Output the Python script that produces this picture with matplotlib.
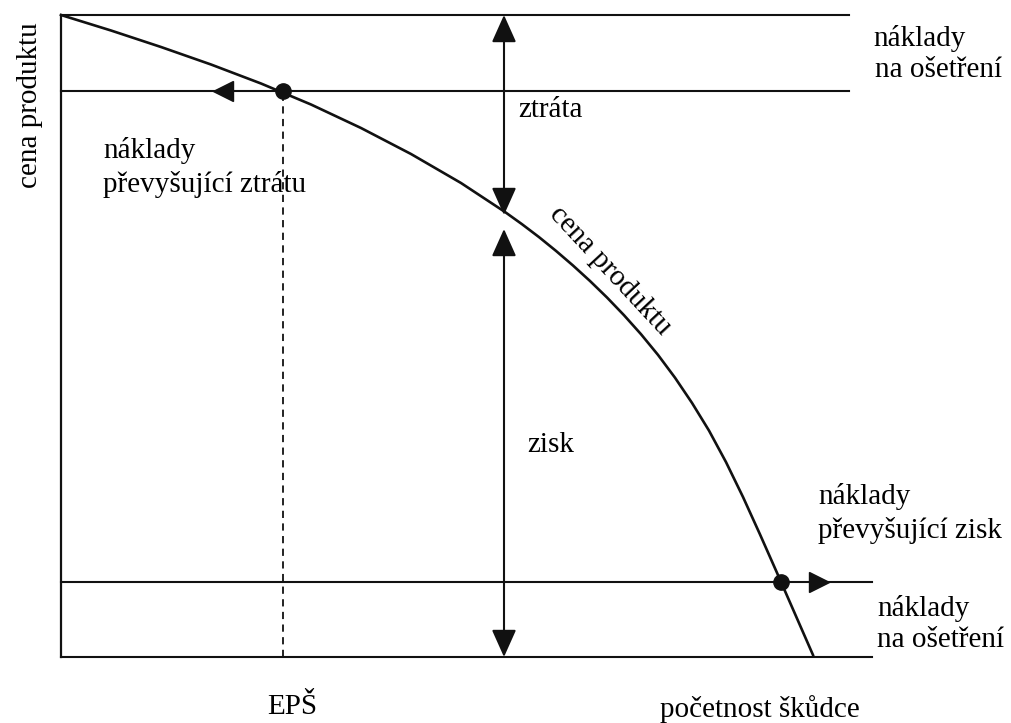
import matplotlib.pyplot as plt

plt.rcParams['font.family'] = ['Liberation Serif', 'DejaVu Serif']

# krivka ceny produktu
curve_x = [0, 50, 100, 150, 200, 250, 300, 350, 400, 444, 461, 478, 495, 512, 529, 546,
           563, 580, 597, 614, 631, 648, 665, 682, 699, 716, 733, 752]
curve_y = [642, 626.5, 610, 592.5, 573.5, 552.5, 529, 503, 474, 445, 432.8, 419.9, 406.1,
           391.5, 376, 359.5, 341.8, 322.8, 302.1, 279.3, 254.1, 226.4, 194.9, 160, 122.6,
           84.2, 45.4, 2]

# urovne nakladu
top_levels = [642, 566]
bottom_levels = [75, 0]
top_end = 788
bottom_end = 811

# body EPS a zisku
eps_x, eps_y = 222, 566
zisk_x, zisk_y = 720, 75

# dvojite sipky ztrata / zisk
loss_x, loss_top, loss_bottom = 443, 642, 442
gain_x, gain_top, gain_bottom = 443, 428, 0

fig = plt.figure(figsize=(10.11, 7.23), dpi=100)
ax = fig.add_axes([0, 0, 1, 1])
ax.set_xlim(-61, 950)
ax.set_ylim(-66, 657)
ax.axis('off')

lc = '#111111'
# osa y
ax.plot([0, 0], [0, top_levels[0]], color=lc, lw=1.6)
# horizontalni cary
for y in top_levels:
    ax.plot([0, top_end], [y, y], color=lc, lw=1.5)
for y in bottom_levels:
    ax.plot([0, bottom_end], [y, y], color=lc, lw=1.5)

# krivka
ax.plot(curve_x, curve_y, color=lc, lw=1.9, solid_joinstyle='round')

# prerusovana cara EPS
ax.plot([eps_x, eps_x], [0, eps_y], color=lc, lw=1.3, ls=(0, (4, 3)))

# body
ax.plot([eps_x, zisk_x], [eps_y, zisk_y], 'o', color=lc, ms=11)

# sipky na carach
ax.plot([eps_x - 60], [eps_y], marker='<', color=lc, ms=14)
ax.plot([zisk_x + 38], [zisk_y], marker='>', color=lc, ms=14)

arrow = dict(arrowstyle='<|-|>,head_length=0.85,head_width=0.38', color=lc,
             lw=1.5, shrinkA=0, shrinkB=0, mutation_scale=20)
ax.annotate('', xy=(loss_x, loss_top), xytext=(loss_x, loss_bottom), arrowprops=arrow)
ax.annotate('', xy=(gain_x, gain_top), xytext=(gain_x, gain_bottom), arrowprops=arrow)

fs = 21
ax.text(812, 619, 'náklady', fontsize=fs, va='center', ha='left')
ax.text(814, 587, 'na ošetření', fontsize=fs, va='center', ha='left')
ax.text(457, 547, 'ztráta', fontsize=fs, va='center', ha='left')
ax.text(42, 507, 'náklady', fontsize=fs, va='center', ha='left')
ax.text(42, 472, 'převyšující ztrátu', fontsize=fs, va='center', ha='left')
ax.text(549, 386, 'cena produktu', fontsize=fs, va='center', ha='center', rotation=-47)
ax.text(466, 212, 'zisk', fontsize=fs, va='center', ha='left')
ax.text(757, 160, 'náklady', fontsize=fs, va='center', ha='left')
ax.text(757, 127, 'převyšující zisk', fontsize=fs, va='center', ha='left')
ax.text(816, 49, 'náklady', fontsize=fs, va='center', ha='left')
ax.text(816, 17, 'na ošetření', fontsize=fs, va='center', ha='left')
ax.text(231, -50, 'EPŠ', fontsize=fs, va='center', ha='center')
ax.text(699, -52, 'početnost škůdce', fontsize=fs, va='center', ha='center')
ax.text(-31, 552, 'cena produktu', fontsize=fs, va='center', ha='center', rotation=90)

fig.savefig('out.png', dpi=100, facecolor='white')
